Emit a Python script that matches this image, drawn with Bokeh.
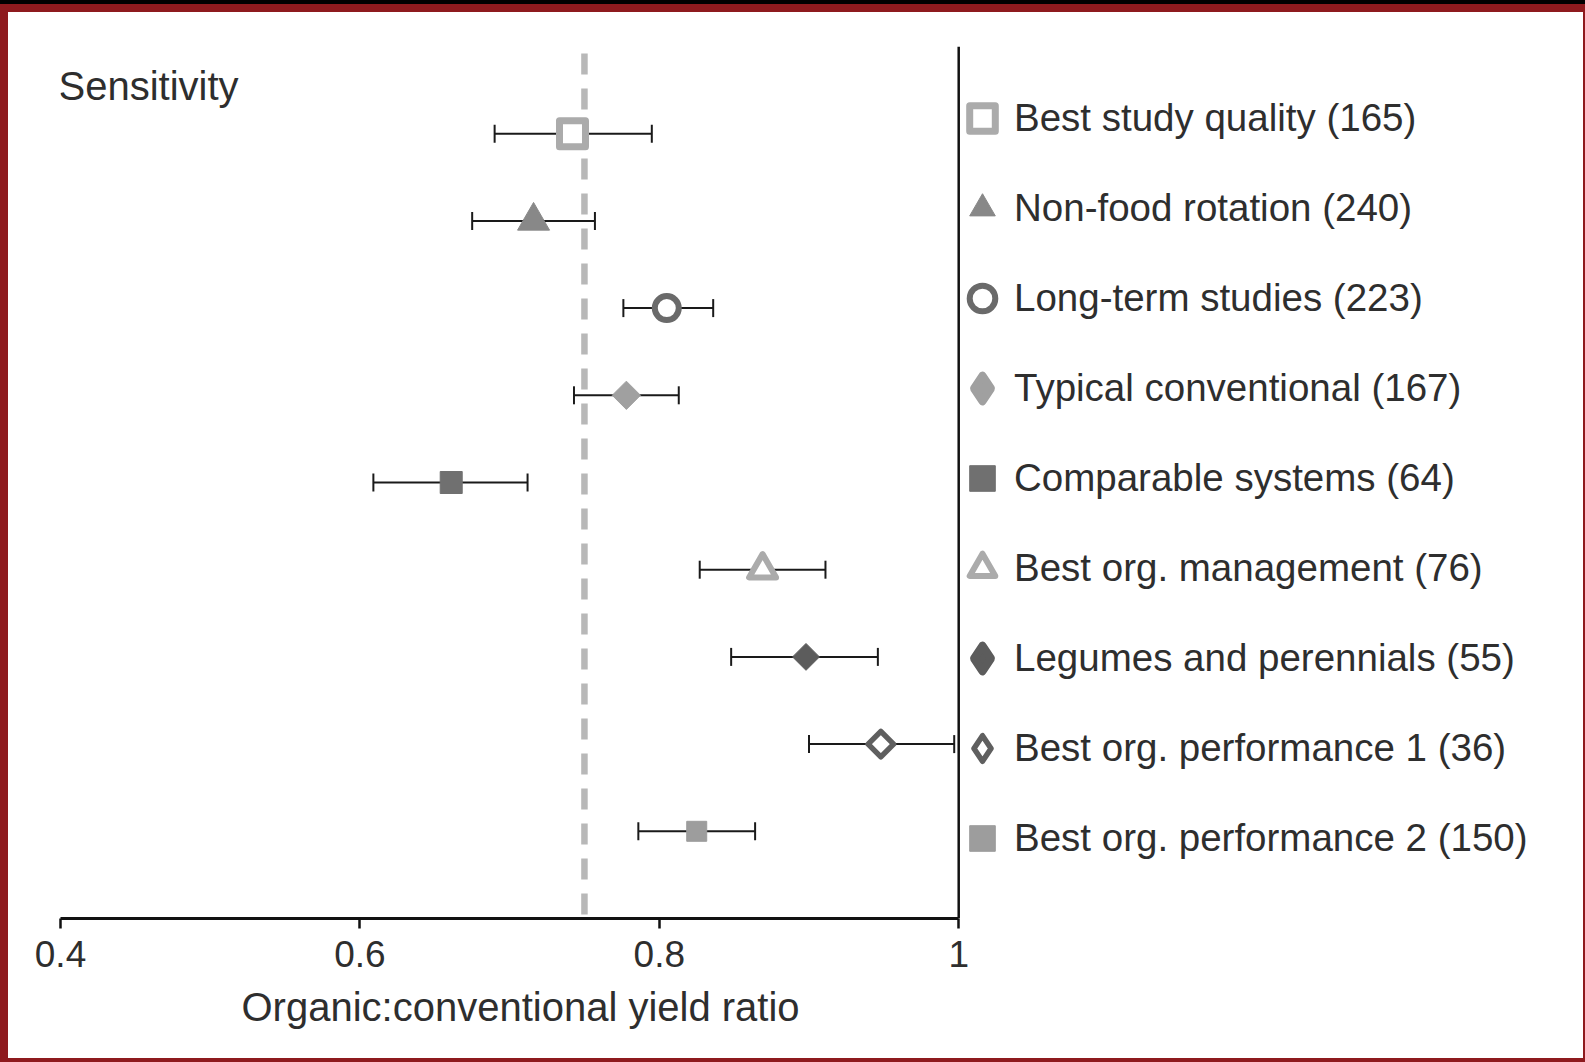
import math
from bokeh.plotting import figure
from bokeh.models import (Range1d, Whisker, TeeHead, Span, Label, Legend, LegendItem,
                          ColumnDataSource, FixedTicker, Title)
from bokeh.embed import file_html
from bokeh.resources import INLINE

# ---------------- data ----------------
categories = ["Best study quality", "Non-food rotation", "Long-term studies",
              "Typical conventional", "Comparable systems", "Best org. management",
              "Legumes and perennials", "Best org. performance 1", "Best org. performance 2"]
n_obs = [165, 240, 223, 167, 64, 76, 55, 36, 150]
ratio = [0.742, 0.716, 0.805, 0.778, 0.661, 0.869, 0.898, 0.948, 0.825]
ci_low = [0.690, 0.675, 0.776, 0.743, 0.609, 0.827, 0.848, 0.900, 0.786]
ci_high = [0.795, 0.757, 0.836, 0.813, 0.712, 0.911, 0.946, 0.997, 0.864]
reference_ratio = 0.75
x_ticks = [0.4, 0.6, 0.8, 1.0]
x_tick_labels = ["0.4", "0.6", "0.8", "1"]
panel_title = "Sensitivity"
x_title = "Organic:conventional yield ratio"

# ---------------- styles ----------------
FONT = "Liberation Sans"
TEXT = "#2e2e2e"
Q = math.pi / 4
NAN = float("nan")
# plot markers; "diamond" rows are drawn as rotated squares, legend uses a diamond proxy
marker_styles = [
    dict(marker="square", size=26, fill_color="white", line_color="#ababab", line_width=7, angle=0),
    dict(marker="triangle", size=32, fill_color="#888888", line_color="#888888", line_width=1, angle=0),
    dict(marker="circle", size=24, fill_color="white", line_color="#6a6a6a", line_width=6, angle=0),
    dict(marker="square", size=20, fill_color="#a0a0a0", line_color="#a0a0a0", line_width=1, angle=Q),
    dict(marker="square", size=22, fill_color="#707070", line_color="#707070", line_width=1, angle=0),
    dict(marker="triangle", size=27, fill_color="white", line_color="#ababab", line_width=6, angle=0),
    dict(marker="square", size=19, fill_color="#5c5c5c", line_color="#5c5c5c", line_width=1, angle=Q),
    dict(marker="square", size=18, fill_color="white", line_color="#5f5f5f", line_width=5.5, angle=Q),
    dict(marker="square", size=20, fill_color="#9d9d9d", line_color="#9d9d9d", line_width=1, angle=0),
]

ypos = list(range(len(categories)))

p = figure(width=1585, height=1062,
           x_range=Range1d(0.4, 1.4), y_range=Range1d(len(categories), -1),
           y_axis_location=None, toolbar_location=None, output_backend="svg",
           min_border_left=60, min_border_right=28, min_border_top=46, min_border_bottom=144)
# framed like the printed figure: black strip on top, dark red rim round the page
p.styles = {"background-color": "white",
            "box-shadow": "inset 0 4px 0 0 #000000, inset 8px 12px 0 0 #8e1a1e, "
                          "inset -2px -4px 0 0 #8e1a1e"}
p.border_fill_alpha = 0
p.grid.visible = False
p.outline_line_color = None
p.background_fill_color = "white"

# reference dashed line
p.add_layout(Span(location=reference_ratio, dimension="height", line_color="#b8b8b8",
                  line_width=6.5, line_dash="21 14", line_dash_offset=28, level="underlay"))
# right spine at ratio 1
p.add_layout(Span(location=x_ticks[-1], dimension="height", line_color="#111111", line_width=2.5))

# error bars
src = ColumnDataSource(dict(y=ypos, lower=ci_low, upper=ci_high))
w = Whisker(base="y", lower="lower", upper="upper", dimension="width", source=src,
            line_color="#1a1a1a", line_width=2, level="underlay",
            upper_head=TeeHead(size=18, line_color="#1a1a1a", line_width=2),
            lower_head=TeeHead(size=18, line_color="#1a1a1a", line_width=2))
p.add_layout(w)

items = []
for i, (cat, n) in enumerate(zip(categories, n_obs)):
    st = marker_styles[i]
    r = p.scatter(x=[ratio[i]], y=[ypos[i]], marker=st["marker"], size=st["size"],
                  fill_color=st["fill_color"], line_color=st["line_color"],
                  line_width=st["line_width"], angle=st["angle"], line_join="round")
    if st["angle"]:
        # legend glyphs ignore rotation: use an undrawn diamond proxy for the key
        filled = st["fill_color"] != "white"
        r = p.scatter(x=[NAN], y=[NAN], marker="diamond", size=10,
                      fill_color=st["fill_color"], line_color=st["line_color"],
                      line_width=8 if filled else 5.5, line_join="round")
    items.append(LegendItem(label=f"{cat} ({n})", renderers=[r]))

legend = Legend(items=items, location=(890, 48), glyph_width=64, glyph_height=64,
                spacing=26, label_standoff=0, padding=0, margin=0,
                border_line_color=None, background_fill_alpha=0,
                label_text_font=FONT, label_text_font_size="38.5px", label_text_color=TEXT)
p.add_layout(legend)

# x axis
ax = p.xaxis[0]
ax.bounds = (x_ticks[0], x_ticks[-1])
ax.ticker = FixedTicker(ticks=x_ticks)
ax.major_label_overrides = {t: l for t, l in zip(x_ticks, x_tick_labels)}
ax.minor_tick_line_color = None
ax.major_tick_out = 10
ax.major_tick_in = 0
ax.major_tick_line_width = 2.5
ax.major_tick_line_color = "#111111"
ax.axis_line_width = 3
ax.axis_line_color = "#111111"
ax.major_label_standoff = 12
ax.major_label_text_font = FONT
ax.major_label_text_font_size = "37px"
ax.major_label_text_color = TEXT

# axis title, placed under the drawn (bounded) part of the axis
p.add_layout(Title(text=x_title, align="left", offset=181, standoff=27,
                   text_font=FONT, text_font_size="40px", text_font_style="normal",
                   text_color=TEXT), "below")

p.add_layout(Label(x=-2, y=833, x_units="screen", y_units="screen", text=panel_title,
                   text_font=FONT, text_font_size="40px", text_color=TEXT,
                   text_baseline="middle"))

open("out.html", "w").write(file_html(p, INLINE))
